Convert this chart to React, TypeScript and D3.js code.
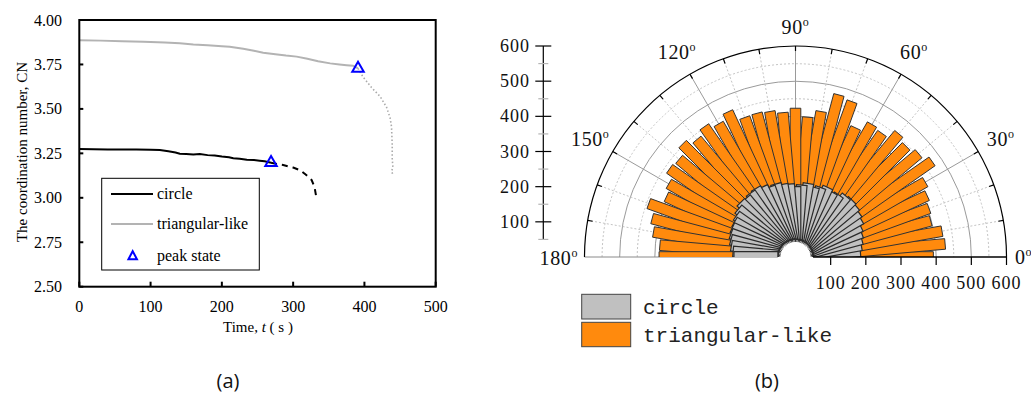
import React from "react";
import * as d3 from "d3";

// ---------- (a) coordination number vs time ----------
const circleTime = [0, 20, 40, 60, 80, 100, 113, 125, 135, 141, 150, 160, 169, 180, 190, 200, 210, 216, 225, 235, 245, 253, 260, 269];
const circleCN = [3.274, 3.273, 3.272, 3.271, 3.271, 3.27, 3.269, 3.262, 3.255, 3.248, 3.247, 3.243, 3.246, 3.24, 3.238, 3.232, 3.228, 3.222, 3.22, 3.214, 3.212, 3.209, 3.205, 3.197];
const circlePostTime = [269, 286, 300, 310, 318, 326, 330, 332];
const circlePostCN = [3.197, 3.184, 3.17, 3.155, 3.13, 3.1, 3.06, 3.015];

const triTime = [0, 30, 60, 90, 120, 141, 160, 180, 200, 211, 230, 245, 258, 275, 290, 305, 320, 335, 352, 365, 375, 384, 391];
const triCN = [3.886, 3.884, 3.88, 3.877, 3.873, 3.869, 3.862, 3.858, 3.853, 3.85, 3.838, 3.827, 3.816, 3.808, 3.8, 3.794, 3.782, 3.768, 3.756, 3.75, 3.746, 3.743, 3.728];
const triPostTime = [391, 398, 410, 422, 431, 436, 438, 439, 439, 440, 438, 440];
const triPostCN = [3.728, 3.68, 3.62, 3.57, 3.51, 3.45, 3.4, 3.3, 3.22, 3.17, 3.15, 3.13];

const peakTime = [269, 391];
const peakCN = [3.197, 3.728];

const timeTicks = [0, 100, 200, 300, 400, 500];
const cnTicks = [2.5, 2.75, 3.0, 3.25, 3.5, 3.75, 4.0];

// ---------- (b) contact orientation rose ----------
const roseAngles = [0, 5, 10, 15, 20, 25, 30, 35, 40, 45, 50, 55, 60, 65, 70, 75, 80, 85, 90, 95, 100, 105, 110, 115, 120, 125, 130, 135, 140, 145, 150, 155, 160, 165, 170, 175, 180];
const triangularCounts = [392, 427, 423, 398, 404, 413, 426, 474, 457, 445, 457, 429, 435, 405, 470, 477, 420, 399, 423, 412, 420, 423, 422, 455, 437, 452, 436, 454, 432, 437, 416, 405, 444, 422, 410, 387, 388];
const circleCounts = [178, 185, 190, 195, 200, 205, 215, 220, 225, 228, 225, 215, 212, 218, 210, 205, 212, 205, 200, 208, 210, 215, 212, 220, 225, 222, 218, 220, 212, 205, 200, 198, 195, 190, 185, 178, 175];
const radialTicks = [100, 200, 300, 400, 500, 600];
const radialMinor = [50, 150, 250, 350, 450, 550];
const angleLabels = [0, 30, 60, 90, 120, 150, 180];

const serif = "'Liberation Serif', 'Times New Roman', serif";

function PanelA() {
  const x = d3.scaleLinear().domain([0, 500]).range([79.3, 435.7]);
  const y = d3.scaleLinear().domain([2.5, 4]).range([286.7, 20]);
  const line = d3
    .line<[number, number]>()
    .x((d) => x(d[0]))
    .y((d) => y(d[1]));
  const zip = (a: number[], b: number[]) => a.map((v, i) => [v, b[i]] as [number, number]);

  const tri = (px: number, py: number, w: number, h: number) =>
    `M${px},${py - (2 * h) / 3} L${px + w / 2},${py + h / 3} L${px - w / 2},${py + h / 3} Z`;

  const [x0, x1] = x.range();
  const [yb, yt] = y.range();

  return (
    <g fontFamily={serif} fill="#000">
      {/* curves */}
      <path d={line(zip(triTime, triCN))!} fill="none" stroke="#b3b3b3" strokeWidth={2} />
      <path d={line(zip(triPostTime, triPostCN))!} fill="none" stroke="#aaaaaa" strokeWidth={1.6} strokeDasharray="1.5,2.2" />
      <path d={line(zip(circleTime, circleCN))!} fill="none" stroke="#000" strokeWidth={2} />
      <path d={line(zip(circlePostTime, circlePostCN))!} fill="none" stroke="#000" strokeWidth={2} strokeDasharray="6,5" />
      {peakTime.map((t, i) => (
        <path key={i} d={tri(x(t), y(peakCN[i]), 11.5, 10)} fill="none" stroke="#0000ff" strokeWidth={2} />
      ))}

      {/* frame */}
      <rect x={x0} y={yt} width={x1 - x0} height={yb - yt} fill="none" stroke="#000" strokeWidth={2} />
      {timeTicks.map((t) => (
        <g key={t}>
          <line x1={x(t)} x2={x(t)} y1={yb} y2={yb - 5} stroke="#000" strokeWidth={2} />
          <text x={x(t)} y={311.5} textAnchor="middle" fontSize={16}>
            {t}
          </text>
        </g>
      ))}
      {cnTicks.map((c) => (
        <g key={c}>
          <line x1={x0} x2={x0 + 4} y1={y(c)} y2={y(c)} stroke="#000" strokeWidth={2} />
          <text x={62} y={y(c) + 5.5} textAnchor="end" fontSize={16}>
            {c.toFixed(2)}
          </text>
        </g>
      ))}
      <text transform="translate(27,152) rotate(-90)" textAnchor="middle" fontSize={15}>
        The coordination number, CN
      </text>
      <text x={258} y={332} textAnchor="middle" fontSize={15}>
        Time, <tspan fontStyle="italic">t</tspan> ( s )
      </text>

      {/* legend */}
      <rect x={101.7} y={178.3} width={157.6} height={91.7} fill="#fff" stroke="#000" strokeWidth={1} />
      <line x1={111} x2={153} y1={194} y2={194} stroke="#000" strokeWidth={2} />
      <text x={157} y={199} fontSize={16}>circle</text>
      <line x1={111} x2={153} y1={224} y2={224} stroke="#b3b3b3" strokeWidth={2} />
      <text x={157} y={229} fontSize={16}>triangular-like</text>
      <path d={tri(132.7, 256.5, 8.5, 8)} fill="none" stroke="#0000ff" strokeWidth={2} />
      <text x={157} y={261} fontSize={16}>peak state</text>
    </g>
  );
}

function PanelB() {
  const cx = 795.5;
  const cy = 257;
  const r = d3.scaleLinear().domain([0, 600]).range([0, 211]);
  const rad = (deg: number) => (deg * Math.PI) / 180;
  const pt = (deg: number, rr: number): [number, number] => [cx + rr * Math.cos(rad(deg)), cy - rr * Math.sin(rad(deg))];
  const barHalf = 5.3;

  const barPath = (deg: number, v0: number, v1: number) => {
    const a = rad(deg);
    const ux = Math.cos(a), uy = -Math.sin(a);
    const nx = Math.sin(a), ny = Math.cos(a);
    const r0 = r(v0), r1 = r(v1);
    const p = [
      [cx + r0 * ux + barHalf * nx, cy + r0 * uy + barHalf * ny],
      [cx + r1 * ux + barHalf * nx, cy + r1 * uy + barHalf * ny],
      [cx + r1 * ux - barHalf * nx, cy + r1 * uy - barHalf * ny],
      [cx + r0 * ux - barHalf * nx, cy + r0 * uy - barHalf * ny],
    ];
    return "M" + p.map((q) => q.join(",")).join("L") + "Z";
  };

  const arc = (rr: number) => `M${cx - rr},${cy} A${rr},${rr} 0 0 1 ${cx + rr},${cy}`;
  const gridSolid = [100, 200, 300, 400, 500];
  const gridDotted = [150, 250, 350, 450, 550];
  const spokes = d3.range(10, 180, 10);
  const rHole = r(50);
  const rOuter = r(600);
  const axisX = 543.3;
  const numFont = { fontFamily: serif, fontSize: 18, letterSpacing: 1, fill: "#111" } as const;

  return (
    <g>
      <defs>
        <clipPath id="upperHalf">
          <rect x={500} y={0} width={531} height={cy} />
        </clipPath>
      </defs>

      {/* grid */}
      {gridDotted.map((g) => (
        <path key={"d" + g} d={arc(r(g))} fill="none" stroke="#c4c4c4" strokeWidth={1} strokeDasharray="2,2" />
      ))}
      {gridSolid.map((g) => (
        <path key={"s" + g} d={arc(r(g))} fill="none" stroke="#9a9a9a" strokeWidth={1} />
      ))}
      {spokes.map((a) => {
        const [xa, ya] = pt(a, rHole);
        const [xb, yb] = pt(a, rOuter);
        const major = a % 30 === 0;
        return (
          <line key={a} x1={xa} y1={ya} x2={xb} y2={yb} stroke={major ? "#9a9a9a" : "#c4c4c4"} strokeWidth={1} strokeDasharray={major ? undefined : "2,2"} />
        );
      })}
      <line x1={cx - rOuter} x2={cx - rHole} y1={cy} y2={cy} stroke="#8a8a8a" strokeWidth={1} />
      <path d={arc(rOuter)} fill="none" stroke="#000" strokeWidth={1.2} />
      {spokes.map((a) => {
        const [xa, ya] = pt(a, rOuter);
        const [xb, yb] = pt(a, rOuter - 5);
        return <line key={"t" + a} x1={xa} y1={ya} x2={xb} y2={yb} stroke="#000" strokeWidth={1.2} />;
      })}

      {/* bars */}
      <g clipPath="url(#upperHalf)">
        {roseAngles.map((a, i) => (
          <path key={"o" + a} d={barPath(a, 50, triangularCounts[i])} fill="#ff8a0d" stroke="#333" strokeWidth={1} />
        ))}
        {roseAngles.map((a, i) => (
          <path key={"g" + a} d={barPath(a, 50, circleCounts[i])} fill="#c0c0c0" stroke="#2a2a2a" strokeWidth={1.2} />
        ))}
        {d3.range(0, 181, 5).map((a) => {
          const [xa, ya] = pt(a, rHole);
          const [xb, yb] = pt(a, rHole - 2.5);
          return <line key={"h" + a} x1={xa} y1={ya} x2={xb} y2={yb} stroke="#333" strokeWidth={1} />;
        })}
      </g>

      {/* radial axis along 0° */}
      <line x1={cx + rHole} x2={cx + rOuter} y1={cy} y2={cy} stroke="#000" strokeWidth={1.5} />
      {radialTicks.map((v) => (
        <g key={"rt" + v}>
          <line x1={cx + r(v)} x2={cx + r(v)} y1={cy} y2={cy + 8} stroke="#000" strokeWidth={1.2} />
          <text x={cx + r(v)} y={289} textAnchor="middle" {...numFont}>
            {v}
          </text>
        </g>
      ))}

      {/* vertical radial scale */}
      <line x1={axisX} x2={axisX} y1={cy - r(600)} y2={cy - r(50)} stroke="#000" strokeWidth={1.2} />
      {radialMinor.map((v) => (
        <line key={"mn" + v} x1={axisX - 5} x2={axisX + 5} y1={cy - r(v)} y2={cy - r(v)} stroke="#b5b5b5" strokeWidth={1.2} />
      ))}
      {radialTicks.map((v) => (
        <g key={"vt" + v}>
          <line x1={axisX - 8} x2={axisX + 8} y1={cy - r(v)} y2={cy - r(v)} stroke="#000" strokeWidth={1.2} />
          <text x={530} y={cy - r(v) + 6} textAnchor="end" {...numFont}>
            {v}
          </text>
        </g>
      ))}

      {/* angle labels */}
      {angleLabels.map((a) => {
        let lx: number, ly: number, anchor = "middle";
        if (a === 0) {
          lx = 1015;
          ly = cy + 7;
          anchor = "start";
        } else if (a === 180) {
          lx = 578;
          ly = cy + 8;
          anchor = "end";
        } else {
          const rr = a === 90 ? 230 : 237;
          [lx, ly] = pt(a, rr);
          ly += 7;
        }
        return (
          <text key={"al" + a} x={lx} y={ly} textAnchor={anchor} fontFamily={serif} fontSize={20} letterSpacing={0.6} fill="#111">
            {a}
            <tspan dy={-8} fontSize={12}>o</tspan>
          </text>
        );
      })}

      {/* legend */}
      <rect x={581.7} y={294.3} width={49} height={24.7} fill="#c0c0c0" stroke="#444" strokeWidth={1} />
      <text x={643} y={314} fontSize={21} fontFamily="'Liberation Mono', monospace" fill="#222">circle</text>
      <rect x={581.7} y={322.3} width={49} height={24.4} fill="#ff8a0d" stroke="#444" strokeWidth={1} />
      <text x={643} y={342} fontSize={21} fontFamily="'Liberation Mono', monospace" fill="#222">triangular-like</text>
    </g>
  );
}

export default function App() {
  return (
    <svg width={1031} height={398} style={{ position: "absolute", left: 0, top: 0, background: "#fff" }}>
      <rect width={1031} height={398} fill="#fff" />
      <PanelA />
      <PanelB />
      <text x={228} y={388} textAnchor="middle" fontSize={20} fontFamily="'Open Sans', sans-serif" fill="#111">(a)</text>
      <text x={767} y={388} textAnchor="middle" fontSize={20} fontFamily="'Open Sans', sans-serif" fill="#111">(b)</text>
    </svg>
  );
}
